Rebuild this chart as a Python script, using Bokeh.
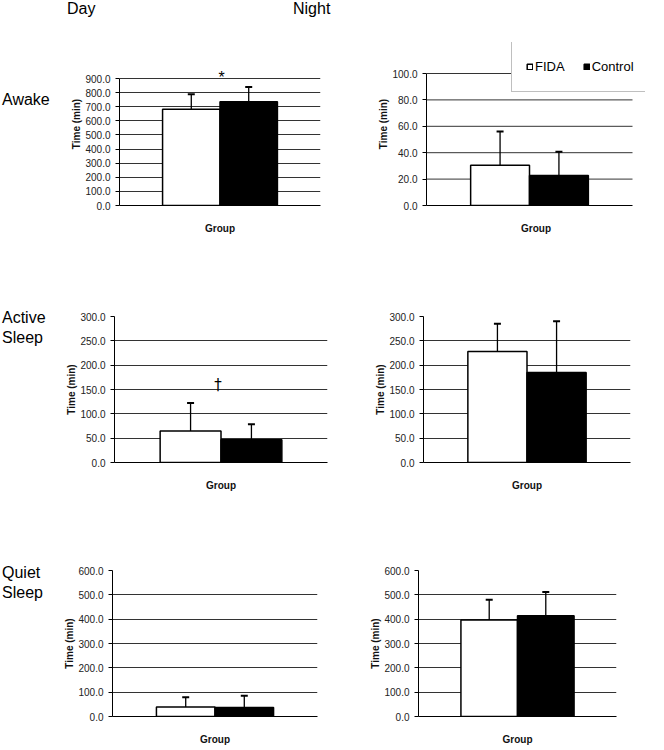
from bokeh.plotting import figure
from bokeh.models import (Range1d, FixedTicker, NumeralTickFormatter,
                          Legend, LegendItem, Label, Div, ColumnDataSource)
from bokeh.layouts import row, column
from bokeh.embed import file_html
from bokeh.resources import INLINE

# ---------------- data ----------------
groups = ["FIDA", "Control"]

awake_day_mean = [682, 735]
awake_day_sd = [106, 105]
awake_night_mean = [30.4, 22.8]
awake_night_sd = [25.6, 18.0]

active_day_mean = [64.6, 46.7]
active_day_sd = [57.9, 31.8]
active_night_mean = [228, 185]
active_night_sd = [57, 105]

quiet_day_mean = [38.6, 37.0]
quiet_day_sd = [40.0, 48.6]
quiet_night_mean = [397, 414]
quiet_night_sd = [83, 98]

awake_day_ticks = [0, 100, 200, 300, 400, 500, 600, 700, 800, 900]
awake_night_ticks = [0, 20, 40, 60, 80, 100]
active_ticks = [0, 50, 100, 150, 200, 250, 300]
quiet_ticks = [0, 100, 200, 300, 400, 500, 600]

row_labels = ["Awake", "Active<br>Sleep", "Quiet<br>Sleep"]
col_labels = ["Day", "Night"]

FONT = "Liberation Sans"
X0, X1 = -0.75, 2.75          # category axis extent (0.75 category padding each side)


def panel(mean, sd, ticks, L, R, T, B, row_top, row_h, fig_left, fig_right,
          y_end=None, x_end=None):
    upper = [m + s for m, s in zip(mean, sd)]
    xc = [i + 0.5 for i in range(len(groups))]
    p = figure(width=fig_right - fig_left, height=row_h,
               x_range=Range1d(X0, X1 if x_end is None else x_end),
               y_range=Range1d(0, ticks[-1] if y_end is None else y_end),
               output_backend="svg", toolbar_location=None,
               min_border_left=L - fig_left, min_border_right=fig_right - R,
               min_border_top=T - row_top, min_border_bottom=row_top + row_h - B,
               background_fill_color="white", border_fill_color="white")
    p.outline_line_color = None
    p.xgrid.visible = False
    if x_end is None:
        p.ygrid.ticker = FixedTicker(ticks=ticks)
        p.ygrid.grid_line_color = "#333333"
        p.ygrid.grid_line_width = 1
    else:
        p.ygrid.visible = False
        gt = ticks[1:]
        p.segment(x0=[X0] * len(gt), y0=gt, x1=[X1] * len(gt), y1=gt,
                  line_color="#333333", line_width=1)

    renderers = []
    fills = ["white", "black"]
    for i, g in enumerate(groups):
        src = ColumnDataSource(dict(x=[xc[i]], top=[mean[i]], name=[g]))
        r = p.vbar(x="x", top="top", width=1.0, source=src,
                   fill_color=fills[i], line_color="black", line_width=1.5)
        renderers.append(r)

    esrc = ColumnDataSource(dict(x=xc, y0=mean, y1=upper))
    p.segment(x0="x", y0="y0", x1="x", y1="y1", source=esrc,
              line_color="black", line_width=1.3)
    p.scatter(x="x", y="y1", source=esrc, marker="dash", size=7,
              line_color="black", line_width=2)

    ya = p.yaxis[0]
    ya.ticker = FixedTicker(ticks=ticks)
    ya.bounds = (0, ticks[-1])
    ya.formatter = NumeralTickFormatter(format="0.0")
    ya.major_label_text_font = FONT
    ya.major_label_text_font_size = "10px"
    ya.major_label_text_color = "#222222"
    ya.major_tick_out = 4
    ya.major_tick_in = 0
    ya.minor_tick_line_color = None
    ya.major_label_standoff = 5
    ya.axis_line_color = "black"
    ya.major_tick_line_color = "black"
    ya.axis_label = "Time (min)"
    ya.axis_label_text_font = FONT
    ya.axis_label_text_font_style = "bold"
    ya.axis_label_text_font_size = "10px"
    ya.axis_label_text_color = "#111111"
    ya.axis_label_standoff = 0

    xa = p.xaxis[0]
    xa.ticker = FixedTicker(ticks=[])
    xa.bounds = (X0, X1)
    xa.major_label_standoff = 0
    xa.major_tick_out = 0
    xa.major_tick_in = 0
    xa.major_tick_line_color = None
    xa.minor_tick_line_color = None
    xa.axis_line_color = "black"
    xa.axis_label = "Group"
    xa.axis_label_text_font = FONT
    xa.axis_label_text_font_style = "bold"
    xa.axis_label_text_font_size = "10px"
    xa.axis_label_text_color = "#111111"
    xa.axis_label_standoff = 17
    return p, renderers


def label_div(html, width, height, pad):
    return Div(text=f'<div style="font:16px \'{FONT}\'; color:black; line-height:20px; '
                    f'padding-top:{pad}px; padding-left:2px; white-space:nowrap">{html}</div>',
               width=width, height=height, margin=0)


header = Div(text=f'<div style="font:16px \'{FONT}\'; color:black; '
                  f'line-height:18px; white-space:nowrap">'
                  f'<span style="display:inline-block; width:226px; margin-left:67px">{col_labels[0]}</span>'
                  f'<span>{col_labels[1]}</span></div>',
             width=664, height=18, margin=0)

# Row 1 (frames extended upward to leave room for the star and the legend)
r1_top, r1_h = 18, 268
p11, _ = panel(awake_day_mean, awake_day_sd, awake_day_ticks, 119, 320, 42, 205,
               r1_top, r1_h, 63, 370, y_end=900 + 36 * 900 / 127)
p12, rr = panel(awake_night_mean, awake_night_sd, awake_night_ticks, 426, 645, 42, 205,
                r1_top, r1_h, 370, 664, y_end=100 + 31 * 100 / 132,
                x_end=X0 + 219 * (X1 - X0) / 206)
p11.add_layout(Label(x=1.03, y=904, text="*", text_align="center", text_baseline="alphabetic",
                     text_font=FONT, text_font_size="16px", text_color="black"))
legend = Legend(items=[LegendItem(label=groups[0], renderers=[rr[0]]),
                       LegendItem(label=groups[1], renderers=[rr[1]])],
                location=(85, 113), orientation="horizontal",
                glyph_width=7, glyph_height=7, label_standoff=2, spacing=18,
                padding=14, label_height=22, margin=0,
                border_line_color="#808080", border_line_width=1,
                background_fill_color="white", background_fill_alpha=1.0,
                label_text_font=FONT, label_text_font_size="13px", label_text_color="black")
p12.add_layout(legend)

# Row 2
r2_top, r2_h = 286, 244
p21, _ = panel(active_day_mean, active_day_sd, active_ticks, 114, 327, 316, 462, r2_top, r2_h, 58, 367)
p22, _ = panel(active_night_mean, active_night_sd, active_ticks, 423, 630, 316, 462, r2_top, r2_h, 367, 664)
p21.add_layout(Label(x=0.95, y=160, text="\u2020", text_align="center", text_baseline="alphabetic",
                     text_font="DejaVu Sans", text_font_size="15px", text_color="black"))

# Row 3
r3_top, r3_h = 530, 220
p31, _ = panel(quiet_day_mean, quiet_day_sd, quiet_ticks, 112, 317, 570, 716, r3_top, r3_h, 56, 362)
p32, _ = panel(quiet_night_mean, quiet_night_sd, quiet_ticks, 418, 616, 570, 716, r3_top, r3_h, 362, 664)

layout = column(
    header,
    row(label_div(row_labels[0], 63, r1_h, 72), p11, p12, margin=0),
    row(label_div(row_labels[1], 58, r2_h, 22), p21, p22, margin=0),
    row(label_div(row_labels[2], 56, r3_h, 33), p31, p32, margin=0),
    margin=0,
)

open("out.html", "w").write(file_html(layout, INLINE))
